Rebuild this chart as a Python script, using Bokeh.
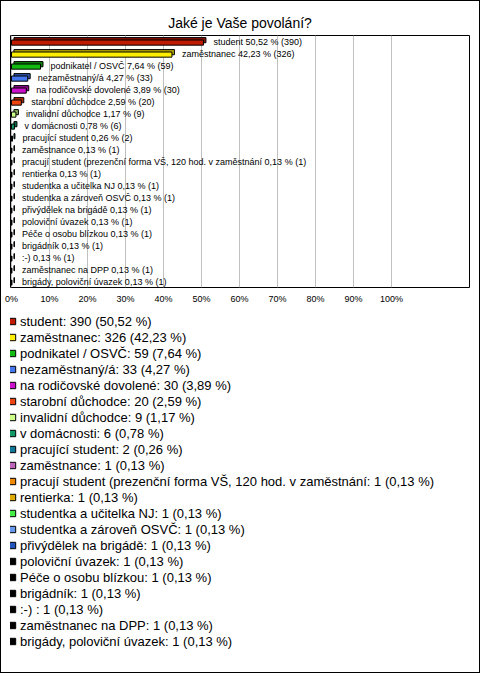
from bokeh.plotting import figure
from bokeh.layouts import column
from bokeh.models import Range1d, FactorRange, FixedTicker, ColumnDataSource, Legend, LegendItem
from bokeh.transform import dodge
from bokeh.core.properties import value
from bokeh.embed import file_html
from bokeh.resources import INLINE

names = ["student", "zaměstnanec", "podnikatel / OSVČ", "nezaměstnaný/á",
         "na rodičovské dovolené", "starobní důchodce", "invalidní důchodce",
         "v domácnosti", "pracující student", "zaměstnance",
         "pracují student (prezenční forma VŠ, 120 hod. v zaměstnání",
         "rentierka", "studentka a učitelka NJ", "studentka a zároveň OSVČ",
         "přivýdělek na brigádě", "poloviční úvazek", "Péče o osobu blízkou",
         "brigádník", ":-) ", "zaměstnanec na DPP", "brigády, poloviční úvazek"]
counts = [390, 326, 59, 33, 30, 20, 9, 6, 2, 1, 1, 1, 1, 1, 1, 1, 1, 1, 1, 1, 1]
percents = [50.52, 42.23, 7.64, 4.27, 3.89, 2.59, 1.17, 0.78, 0.26, 0.13, 0.13,
            0.13, 0.13, 0.13, 0.13, 0.13, 0.13, 0.13, 0.13, 0.13, 0.13]
colors = ["#c01a00", "#ffee00", "#11bb11", "#4477ee", "#cc11cc", "#ee4411",
          "#ccff88", "#119966", "#117799", "#bb66bb", "#ee8800", "#ddaa00",
          "#44ee44", "#6699ee", "#2255bb", "#000000", "#000000", "#000000",
          "#000000", "#000000", "#000000"]
tick_values = [0, 10, 20, 30, 40, 50, 60, 70, 80, 90, 100]
tick_labels = ["0%", "10%", "20%", "30%", "40%", "50%", "60%", "70%", "80%", "90%", "100%"]

FONT = value("Liberation Sans")


def fmt(v):
    return f"{v:.2f}".replace(".", ",")


def darker(c, f=0.7):
    r, g, b = int(c[1:3], 16), int(c[3:5], 16), int(c[5:7], 16)
    return "#%02x%02x%02x" % (int(r * f), int(g * f), int(b * f))


bar_labels = [f"{n} {fmt(v)} % ({c})" for n, v, c in zip(names, percents, counts)]
legend_labels = [f"{n}: {c} ({fmt(v)} %)" for n, v, c in zip(names, percents, counts)]

source = ColumnDataSource(dict(
    name=names, val=percents, zero=[0] * len(names), color=colors,
    dark=[darker(c) for c in colors], label=bar_labels,
))

# ---- bar chart ----
p = figure(width=478, height=305, x_range=Range1d(-0.26, 120.53),
           y_range=FactorRange(factors=names[::-1]),
           output_backend="svg", toolbar_location=None,
           min_border_left=9, min_border_right=10, min_border_top=34,
           min_border_bottom=19)
p.background_fill_color = "white"
p.border_fill_color = "white"
p.outline_line_color = "black"
p.outline_line_width = 1

p.title.text = "Jaké je Vaše povolání?"
p.title.align = "center"
p.title.text_font = "Liberation Sans"
p.title.text_font_size = "14px"
p.title.text_font_style = "normal"
p.title.text_color = "black"
p.title.standoff = 10

p.yaxis.visible = False
p.ygrid.visible = False
ax = p.xaxis[0]
ax.ticker = FixedTicker(ticks=tick_values)
ax.major_label_overrides = {t: l for t, l in zip(tick_values, tick_labels)}
ax.axis_line_color = None
ax.major_tick_line_color = None
ax.minor_tick_line_color = None
ax.major_tick_out = 0
ax.major_tick_in = 0
ax.major_label_text_font = "Liberation Sans"
ax.major_label_text_font_size = "9px"
ax.major_label_text_color = "black"
ax.major_label_standoff = 6
p.xgrid.ticker = FixedTicker(ticks=tick_values)
p.xgrid.grid_line_color = "#c0c0c0"

# back (depth) face
p.hbar(y=dodge("name", 0.11, range=p.y_range), left=dodge("zero", 0.65),
       right=dodge("val", 0.65), height=0.43, source=source,
       fill_color="dark", line_color="black", line_width=1)
# front face
p.hbar(y=dodge("name", -0.09, range=p.y_range), left="zero", right="val",
       height=0.43, source=source, fill_color="color", line_color="black",
       line_width=1)
p.text(x="val", y="name", text="label", source=source, x_offset=10,
       text_baseline="middle", text_align="left", text_font=FONT,
       text_font_size="9px", text_color="black")

# ---- legend panel ----
q = figure(width=478, height=366, x_range=Range1d(0, 1),
           y_range=FactorRange(factors=names[::-1]),
           output_backend="svg", toolbar_location=None,
           min_border_left=0, min_border_right=0, min_border_top=0,
           min_border_bottom=0)
q.axis.visible = False
q.grid.visible = False
q.outline_line_color = None
q.background_fill_color = "white"
q.border_fill_color = "white"

leg_r = q.scatter(x="val", y="name", source=source, marker="square",
                  fill_color="color", line_color="black", size=6, visible=False)

items = [LegendItem(label=legend_labels[i], renderers=[leg_r], index=i)
         for i in range(len(names))]
legend = Legend(items=items, location=(-6, 23), orientation="vertical",
                glyph_width=16, glyph_height=16, label_height=16, spacing=0,
                padding=0, margin=0, label_standoff=-1,
                label_text_font="Liberation Sans", label_text_font_size="13px",
                label_text_color="black", border_line_color=None,
                background_fill_alpha=0)
q.add_layout(legend, "center")

layout = column(p, q, spacing=0)
layout.styles = {"border": "1px solid black"}

open("out.html", "w").write(file_html(layout, INLINE))
